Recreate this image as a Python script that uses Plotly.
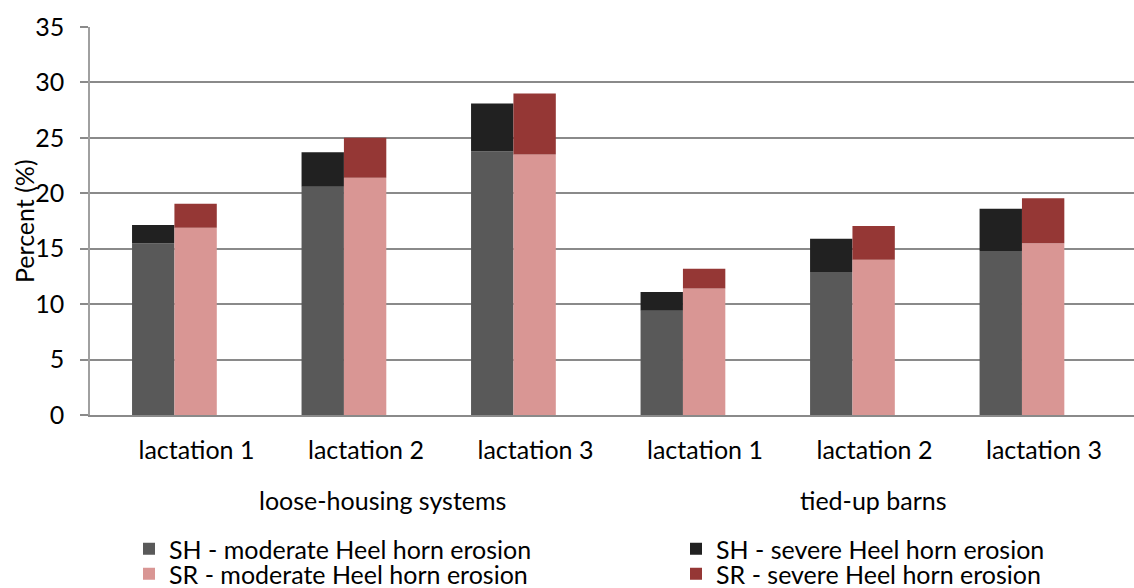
import plotly.graph_objects as go

housing = ["loose-housing systems", "tied-up barns"]
lactations = ["lactation 1", "lactation 2", "lactation 3",
              "lactation 1", "lactation 2", "lactation 3"]
y_title = "Percent (%)"

sh_moderate = [15.5, 20.6, 23.8, 9.4, 12.9, 14.8]
sh_severe = [1.65, 3.1, 4.3, 1.7, 3.0, 3.8]
sr_moderate = [16.9, 21.4, 23.5, 11.4, 14.0, 15.5]
sr_severe = [2.15, 3.6, 5.5, 1.8, 3.05, 4.05]

names = ["SH - moderate Heel horn erosion", "SH - severe Heel horn erosion",
         "SR - moderate Heel horn erosion", "SR - severe Heel horn erosion"]
colors = ["#595959", "#212121", "#D99694", "#953735"]

FONT = "Lato"
FS = 25
x = list(range(len(lactations)))
W = 0.25

fig = go.Figure()
fig.add_trace(go.Bar(x=x, y=sh_moderate, name=names[0], marker_color=colors[0],
                     offset=-0.38, width=W, marker_line_width=0, legend="legend"))
fig.add_trace(go.Bar(x=x, y=sh_severe, base=sh_moderate, name=names[1], marker_color=colors[1],
                     offset=-0.38, width=W, marker_line_width=0, legend="legend2"))
fig.add_trace(go.Bar(x=x, y=sr_moderate, name=names[2], marker_color=colors[2],
                     offset=-0.13, width=W, marker_line_width=0, legend="legend3"))
fig.add_trace(go.Bar(x=x, y=sr_severe, base=sr_moderate, name=names[3], marker_color=colors[3],
                     offset=-0.13, width=W, marker_line_width=0, legend="legend4"))

grid = "#8a8a8a"


def leg(xp, yp):
    return dict(x=xp, y=yp, xanchor="left", yanchor="middle", orientation="v",
                bgcolor="rgba(0,0,0,0)", font=dict(family=FONT, size=FS, color="black"))


LX = (129 - 90) / 1044
RX = (676 - 90) / 1044
R1 = (415 - 549) / 388
R2 = (415 - 574) / 388

fig.update_layout(
    width=1134, height=588,
    margin=dict(l=90, r=0, t=27, b=173, autoexpand=False),
    barmode="overlay",
    showlegend=True,
    plot_bgcolor="white", paper_bgcolor="white",
    font=dict(family=FONT, size=FS, color="black"),
    xaxis=dict(range=[-0.628, 5.531], tickvals=x, ticktext=lactations,
               showgrid=False, showline=True, linecolor=grid, linewidth=1.5,
               ticks="", ticklabelstandoff=12, zeroline=False, automargin=False,
               tickfont=dict(family=FONT, size=FS, color="black")),
    yaxis=dict(range=[0, 35], dtick=5, showgrid=True, gridcolor=grid, gridwidth=1.5,
               showline=True, linecolor="#a0a0a0", linewidth=1.5,
               ticks="outside", ticklen=8, tickcolor=grid, tickwidth=1.5,
               ticklabelstandoff=11, zeroline=False, automargin=False,
               tickfont=dict(family=FONT, size=FS, color="black")),
    legend=leg(LX, R1),
    legend2=leg(RX, R1),
    legend3=leg(LX, R2),
    legend4=leg(RX, R2),
    annotations=[
        dict(text=housing[0], x=(382 - 90) / 1044, y=(415 - 500) / 388, xref="paper", yref="paper",
             showarrow=False, xanchor="center", yanchor="middle"),
        dict(text=housing[1], x=(873 - 90) / 1044, y=(415 - 500) / 388, xref="paper", yref="paper",
             showarrow=False, xanchor="center", yanchor="middle"),
        dict(text=y_title, x=(24 - 90) / 1044, y=0.5, xref="paper", yref="paper",
             showarrow=False, xanchor="center", yanchor="middle", textangle=-90,
             font=dict(family=FONT, size=FS, color="black")),
    ],
)

fig.write_html("out.html", config={"displayModeBar": False},
               post_script="document.body.style.margin='0';")
